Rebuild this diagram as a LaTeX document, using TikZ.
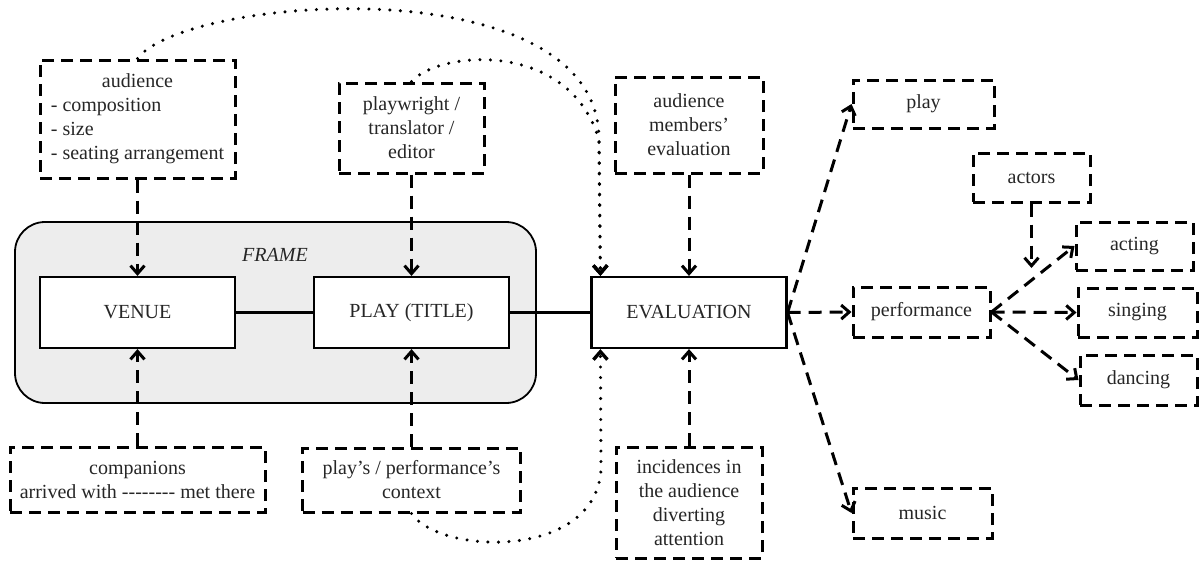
\documentclass[tikz,border=0pt]{standalone}
\usepackage{fontspec}
\setmainfont{Liberation Serif}
\usetikzlibrary{arrows.meta}

\begin{document}
\begin{tikzpicture}[x=1pt,y=-1pt,>={Straight Barb[length=8pt,width=14pt]},
  font=\fontsize{20}{24}\selectfont,text=black!85,
  box/.style={draw,line width=2.2pt,fill=white,minimum width=195pt,minimum height=71pt,inner sep=0pt},
  dbox/.style={draw,line width=3pt,dash pattern=on 12pt off 7pt,inner sep=0pt,align=center},
  darrow/.style={->,line width=3pt,dash pattern=on 13pt off 8pt},
  dotarrow/.style={->,line width=3.4pt,line cap=round,dash pattern=on 0pt off 10.5pt}]
   \useasboundingbox (0,0) rectangle (1203,560);

   % frame round venue and title
   \node[draw,line width=1.8pt,fill=black!7,rounded corners=30pt,minimum width=521pt,minimum height=181pt] (frame) at (275.5,312.5) {};
   \node[font=\fontsize{20}{24}\selectfont\itshape] (framelabel) at (275,255) {FRAME};

   \node[box]  (venue) at (137.5,312.5) {VENUE};
   \node[box]  (title) at (411.5,312.5) {PLAY (TITLE)};
   \node[box]  (eval)  at (689,312.5)   {EVALUATION};

   \node[dbox,minimum width=195pt,minimum height=118pt] (aud) at (137.5,119)
     {\begin{tabular}{@{}l@{}}\multicolumn{1}{@{}c@{}}{audience}\\- composition\\- size\\- seating arrangement\end{tabular}};
   \node[dbox,minimum width=145pt,minimum height=90pt]  (pw)    at (411.5,128) {playwright /\\translator /\\editor};
   \node[dbox,minimum width=148pt,minimum height=96pt]  (amev)  at (689,125)   {audience\\members’\\evaluation};
   \node[dbox,minimum width=255pt,minimum height=65pt]  (comp)  at (137.5,479.5)
     {companions\\arrived with -\kern0pt-\kern0pt-\kern0pt-\kern0pt-\kern0pt-\kern0pt-\kern0pt- met there};
   \node[dbox,minimum width=218pt,minimum height=64pt]  (ctx)   at (411.5,480) {play’s / performance’s\\context};
   \node[dbox,minimum width=146pt,minimum height=111pt] (incid) at (689,502.5) {incidences in\\the audience\\diverting\\attention};

   \node[dbox,minimum width=141pt,minimum height=48pt] (play)    at (923.5,104)  {play};
   \node[dbox,minimum width=137pt,minimum height=50pt] (perf)    at (921.5,312)  {performance};
   \node[dbox,minimum width=139pt,minimum height=50pt] (music)   at (922.5,513)  {music};
   \node[dbox,minimum width=117pt,minimum height=49pt] (actors)  at (1031.5,177.5) {actors};
   \node[dbox,minimum width=117pt,minimum height=48pt] (acting)  at (1134.5,246) {acting};
   \node[dbox,minimum width=119pt,minimum height=49pt] (singing) at (1137.5,312.5) {singing};
   \node[dbox,minimum width=117pt,minimum height=50pt] (dancing) at (1138.5,380) {dancing};

   \coordinate (evtop)  at ([xshift=10pt]eval.north west);
   \coordinate (evbot)  at ([xshift=10pt]eval.south west);
   \coordinate (actend) at (1031.5,268);

   \draw[line width=2.2pt] (venue) -- (title) (title) -- (eval);

    \path[darrow]
    (aud)       edge (venue)
    (pw)        edge (title)
    (amev)      edge (eval)
    (comp)      edge (venue)
    (ctx)       edge (title)
    (incid)     edge (eval)
    (eval.east) edge (play.west)
                edge (perf.west)
                edge (music.west)
    (perf.east) edge (acting.west)
                edge (singing.west)
                edge (dancing.west)
    (actors)    edge (actend);

   \draw[dotarrow] (aud.north) .. controls (185,-5) and (600,-35) .. (599,140) -- (evtop);
   \draw[dotarrow] (pw.north) .. controls (440,50) and (570,40) .. (599,140) -- (evtop);
   \draw[dotarrow] (ctx.south) .. controls (440,555) and (595,560) .. (601,470) -- (evbot);
\end{tikzpicture}
\end{document}
